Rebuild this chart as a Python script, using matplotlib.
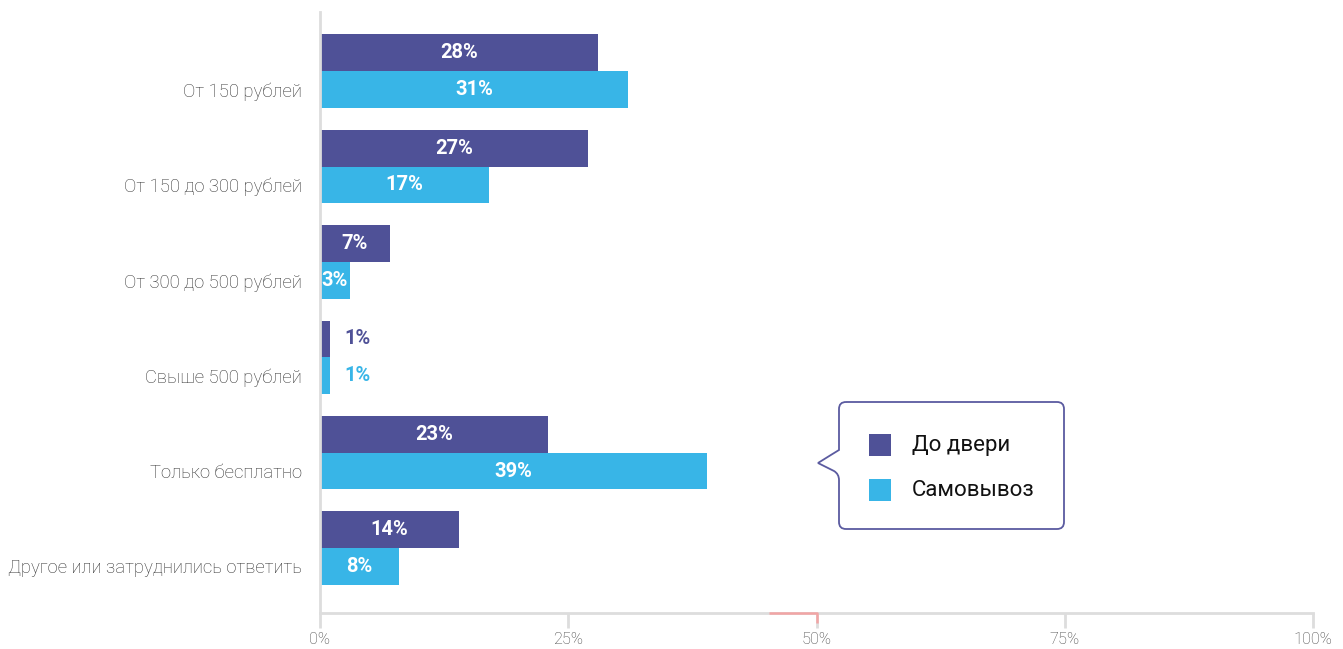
import matplotlib.pyplot as plt
from matplotlib.path import Path
from matplotlib.patches import PathPatch, Rectangle

plt.rcParams['font.family'] = ['Roboto', 'DejaVu Sans']

categorias = ['От 150 рублей', 'От 150 до 300 рублей', 'От 300 до 500 рублей',
              'Свыше 500 рублей', 'Только бесплатно', 'Другое или затруднились ответить']
do_dveri = [28, 27, 7, 1, 23, 14]
samovyvoz = [31, 17, 3, 1, 39, 8]
series = ['До двери', 'Самовывоз']
ticks = [0, 25, 50, 75, 100]

roxo = '#4f5197'
azul = '#38b5e7'
cinza = '#dddddd'

W, H = 1343, 649
fig = plt.figure(figsize=(W / 100, H / 100), dpi=100)
ax = fig.add_axes([320 / W, 36 / H, 993 / W, 601 / H])

h = 0.385
pos = list(range(len(categorias)))
for valores, cor, desloc in [(do_dveri, roxo, -h / 2), (samovyvoz, azul, h / 2)]:
    ys = [p + desloc for p in pos]
    ax.barh(ys, valores, height=h, color=cor, linewidth=0)
    for y, v in zip(ys, valores):
        if v >= 2:
            ax.text(v / 2, y, f'{v}%', ha='center', va='center', color='white',
                    fontsize=14.5, fontweight='bold')
        else:
            ax.text(v + 2.8, y, f'{v}%', ha='center', va='center', color=cor,
                    fontsize=14.5, fontweight='bold')

ax.set_xlim(0, 100)
ax.set_ylim(5.68, -0.62)
# rótulos ficam alinhados com a segunda barra de cada grupo
ax.set_yticks([p + h / 2 for p in pos])
ax.set_yticklabels(categorias, fontsize=13.3, color='#333333', fontweight='light')
ax.set_xticks(ticks)
ax.set_xticklabels([f'{t}%' for t in ticks], fontsize=11.8, color='#444444', fontweight='light')
ax.tick_params(axis='y', length=0, pad=13)
ax.tick_params(axis='x', length=11, width=2, color=cinza, pad=3)
for lado in ['top', 'right']:
    ax.spines[lado].set_visible(False)
ax.spines['left'].set_color(cinza)
ax.spines['bottom'].set_color(cinza)
ax.spines['left'].set_linewidth(2)
ax.spines['bottom'].set_linewidth(2)

# marcador rosa perto de 50%
ax.plot([45.2, 50, 50], [5.68, 5.68, 5.79], color='#f2a5a5', lw=1.8,
        clip_on=False, solid_capstyle='butt', zorder=5)


def px(x, y):
    return (x / W, 1 - y / H)


# caixa da legenda em forma de balão
x0, x1, y0, y1, r = 839, 1064, 402, 529, 7
pontos = [
    (x0 + r, y0), (x1 - r, y0), (x1, y0), (x1, y0 + r),
    (x1, y1 - r), (x1, y1), (x1 - r, y1),
    (x0 + r, y1), (x0, y1), (x0, y1 - r),
    (x0, 480), (x0, 474), (834, 471), (818, 463), (834, 453), (x0, 450), (x0, 444),
    (x0, y0 + r), (x0, y0), (x0 + r, y0),
]
codes = [Path.MOVETO, Path.LINETO, Path.CURVE3, Path.CURVE3,
         Path.LINETO, Path.CURVE3, Path.CURVE3,
         Path.LINETO, Path.CURVE3, Path.CURVE3,
         Path.LINETO, Path.CURVE3, Path.CURVE3, Path.LINETO, Path.CURVE3, Path.CURVE3, Path.CURVE3,
         Path.LINETO, Path.CURVE3, Path.CURVE3]
caminho = Path([px(*p) for p in pontos], codes)
fig.patches.append(PathPatch(caminho, facecolor='white', edgecolor='#5b5ba0', lw=1.3,
                             transform=fig.transFigure, zorder=10))

for i, (nome, cor) in enumerate(zip(series, [roxo, azul])):
    yc = 445 + i * 45
    fx, fy = px(869, yc + 11)
    fig.patches.append(Rectangle((fx, fy), 22 / W, 22 / H, facecolor=cor, lw=0,
                                 transform=fig.transFigure, zorder=11))
    tx, ty = px(912, yc)
    fig.text(tx, ty, nome, ha='left', va='center', fontsize=16, color='#111111', zorder=12)

fig.savefig('out.png', dpi=100)
